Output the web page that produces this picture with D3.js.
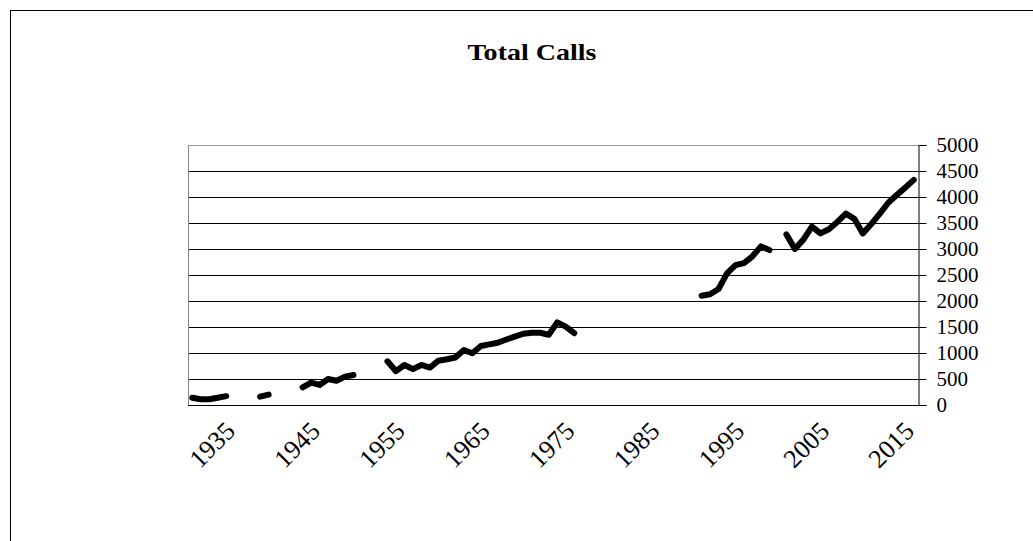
<!DOCTYPE html>
<html><head><meta charset="utf-8">
<script src="https://cdn.jsdelivr.net/npm/d3@7"></script>
<style>html,body{margin:0;padding:0;background:#fff;}svg{display:block;}</style>
</head><body>
<svg id="c" width="1033" height="541"></svg>
<script>
const title = "Total Calls";
const years = d3.range(1930, 2016);
const calls = [
 // 1930-1939
 140,110,110,140,170, null,null,null, 160,200,
 // 1940-1949
 null,null,null, 340,430,385,500,467,545,577,
 // 1950-1959
 null,null,null, 840,650,770,690,770,720,852,
 // 1960-1969
 880,913,1058,994,1135,1165,1198,1260,1313,1370,
 // 1970-1979
 1390,1390,1350,1590,1506,1380, null,null,null,null,
 // 1980-1989
 null,null,null,null,null,null,null,null,null,null,
 // 1990-1999
 2100,2130,2230,2530,2690,2730,2860,3050,2980, null,
 // 2000-2009
 3280,3000,3180,3430,3300,3380,3520,3680,3580,3300,
 // 2010-2015
 3480,3680,3890,4040,4180,4330
];
const yTicks = [0,500,1000,1500,2000,2500,3000,3500,4000,4500,5000];
const xLabels = [1935,1945,1955,1965,1975,1985,1995,2005,2015];

const svg = d3.select("#c");
const L = 188, R = 918, T = 145, B = 405;
const x = d3.scaleBand().domain(years).range([L, R]);
const y = d3.scaleLinear().domain([0, 5000]).range([B, T]);
const font = "'Liberation Serif','Times New Roman',serif";

// outer frame
svg.append("rect").attr("x", 10.5).attr("y", 10.5).attr("width", 1040).attr("height", 560)
  .attr("fill", "#fff").attr("stroke", "#000").attr("stroke-width", 1);

svg.append("text").attr("x", 532).attr("y", 60).attr("text-anchor", "middle")
  .attr("font-family", font).attr("font-weight", "bold").attr("font-size", 23)
  .attr("textLength", 129).attr("lengthAdjust", "spacingAndGlyphs").text(title);

// gridlines
svg.append("g").selectAll("line").data(yTicks).join("line")
  .attr("x1", L).attr("x2", R)
  .attr("y1", d => Math.round(y(d)) + 0.5).attr("y2", d => Math.round(y(d)) + 0.5)
  .attr("stroke", d => d === 5000 ? "#999" : "#000").attr("stroke-width", 1);
svg.append("line").attr("x1", L + 0.5).attr("x2", L + 0.5).attr("y1", T).attr("y2", B)
  .attr("stroke", "#888");

// right axis
const yAxis = d3.axisRight(y).tickValues(yTicks).tickSize(8).tickPadding(10).tickFormat(d3.format("d"));
const gy = svg.append("g").attr("transform", `translate(${R + 0.5},0)`).call(yAxis);
gy.select(".domain").attr("stroke", "#000");
gy.selectAll(".tick line").attr("stroke", "#000");
gy.selectAll("text").attr("font-family", font).attr("font-size", 21).attr("fill", "#000");

// bottom axis
const xAxis = d3.axisBottom(x).tickValues(xLabels).tickSize(0).tickPadding(0);
const gx = svg.append("g").attr("transform", `translate(0,${B + 0.5})`).call(xAxis);
gx.select(".domain").attr("stroke", "#000").attr("d", `M${L},0H${R}`);
gx.selectAll("text").attr("font-family", font).attr("font-size", 26).attr("fill", "#000")
  .attr("text-anchor", "end").attr("dy", null)
  .attr("transform", "translate(2,27) rotate(-45)");

// line
const line = d3.line().defined(d => d.v != null)
  .x(d => x(d.yr) + x.bandwidth() / 2).y(d => y(d.v));
svg.append("path").datum(years.map((yr, i) => ({yr, v: calls[i]})))
  .attr("d", line).attr("fill", "none").attr("stroke", "#000")
  .attr("stroke-width", 6).attr("stroke-linejoin", "round").attr("stroke-linecap", "round");
</script>
</body></html>
